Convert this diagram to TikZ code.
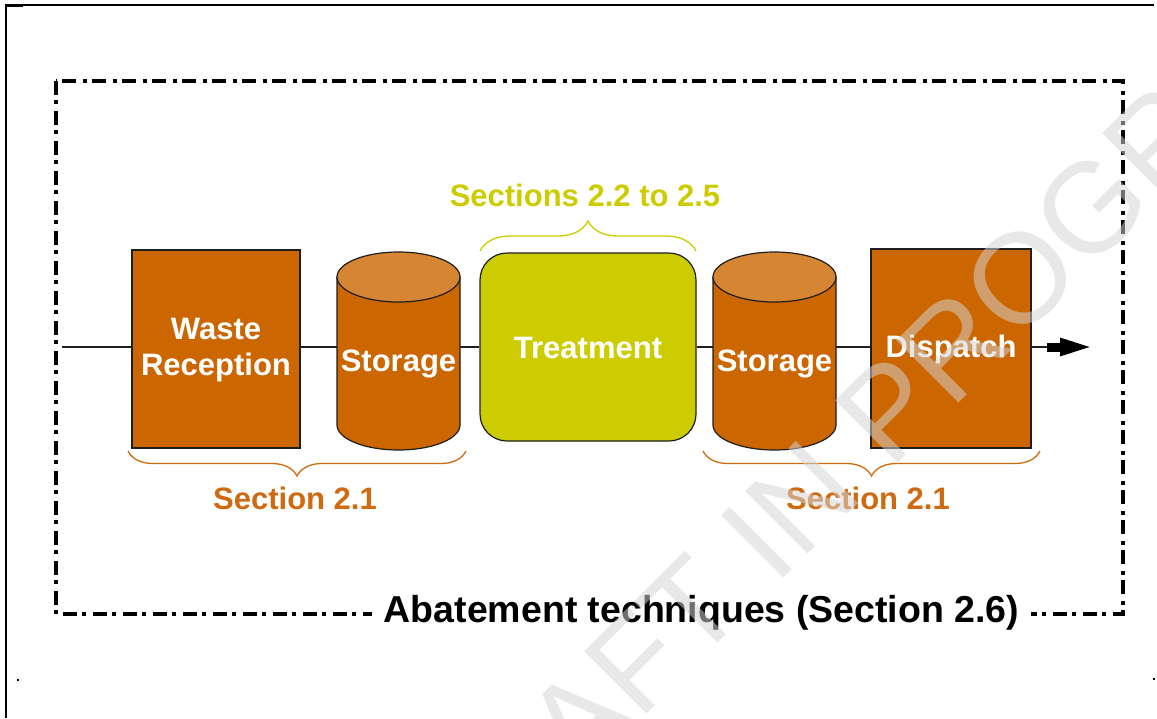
\documentclass[tikz,border=0pt]{standalone}
\usepackage{fontspec}
\setmainfont{Liberation Sans}
\usetikzlibrary{decorations.pathreplacing,arrows.meta}
\definecolor{rust}{RGB}{204,102,0}
\definecolor{rustlight}{RGB}{214,133,51}
\definecolor{olive}{RGB}{204,204,0}
\definecolor{secorange}{RGB}{208,106,16}
\definecolor{wmgray}{RGB}{211,211,211}
\definecolor{edge}{RGB}{30,30,30}
\begin{document}
\begin{tikzpicture}[x=1pt,y=-1pt,
  lbl/.style={font=\bfseries\fontsize{31}{36}\selectfont, text=white, align=center, inner sep=0pt},
  box/.style={draw=edge, line width=1.2pt, fill=rust},
  conn/.style={draw=edge, line width=1.1pt},
  sect/.style={font=\bfseries\fontsize{31}{36}\selectfont, inner sep=0pt},
  brc/.style={decorate, line width=1.3pt},
  cylbody/.style={draw=edge, line width=1.2pt, fill=rust},
  cyltop/.style={draw=edge, line width=1.2pt, fill=rustlight}]
\useasboundingbox (0,0) rectangle (1157,718);
\clip (0,0) rectangle (1157,718);
% page frame marks
\draw[line width=1.3pt] (6,718) -- (6,5) -- (1154,5);
\fill (5,3.5) rectangle (23,7);
\fill (17,679) rectangle (19,681);
\fill (1153,678) rectangle (1155,680);
% dash-dot frame
\draw[line width=3.5pt, dash pattern=on 14pt off 5pt on 4pt off 7pt] (56,81) rectangle (1123,614);
% coordinates of the flow line
\coordinate (in) at (62,347);
\coordinate (ah) at (1047,347);
\coordinate (tip) at (1098,347);
% nodes
\node[box, minimum width=168, minimum height=198, inner sep=0pt] (waste) at (216,349) {};
\node[lbl] (wastet) at (216,350) {Waste\\Reception};
\node[minimum width=123, minimum height=198, inner sep=0pt] (st1) at (398.5,351) {};
\node[minimum width=123, minimum height=198, inner sep=0pt] (st2) at (774.5,351) {};
\node[draw=edge, line width=1.2pt, fill=olive, rounded corners=27pt, minimum width=216, minimum height=188, inner sep=0pt] (treat) at (588,347) {};
\node[lbl] (treatt) at (588,348) {Treatment};
\node[box, minimum width=160, minimum height=199, inner sep=0pt] (disp) at (951,348.5) {};
% cylinders
\foreach \cx in {398.5,774.5}{
  \filldraw[cylbody] ({\cx-61.5},277) -- ({\cx-61.5},425) arc[start angle=180,end angle=0,x radius=61.5,y radius=25] -- ({\cx+61.5},277) -- cycle;
  \filldraw[cyltop] (\cx,277) ellipse[x radius=61.5,y radius=25];
}
\node[lbl] (st1t) at (398.5,364) {Storage};
\node[lbl] (st2t) at (774.5,364) {Storage};
\node[lbl] (dispt) at (951,349) {Dispatch};
% connectors
\draw[conn] (in) -- (in -| waste.west);
\draw[conn] (waste.east |- in) -- (st1.west |- in);
\draw[conn] (st1.east |- in) -- (treat.west |- in);
\draw[conn] (treat.east |- in) -- (st2.west |- in);
\draw[conn] (st2.east |- in) -- (disp.west |- in);
\draw[conn] (disp.east |- in) -- (ah);
\draw[line width=9pt, -{Triangle[length=38pt,width=15pt]}] (ah) -- (tip);
% braces
\draw[brc, draw=secorange, decoration={brace, amplitude=25pt}] (466,451) -- (128,451);
\draw[brc, draw=secorange, decoration={brace, amplitude=25pt}] (1040,451) -- (703,451);
\draw[brc, draw=olive, decoration={brace, amplitude=30pt}] (480,251) -- (696,251);
% section labels
\node[sect, text=secorange] (s21a) at (295,498) {Section 2.1};
\node[sect, text=secorange] (s21b) at (868,498) {Section 2.1};
\node[sect, text=olive] (s25) at (585,195) {Sections 2.2 to 2.5};
\node[font=\bfseries\fontsize{37.5}{40}\selectfont, fill=white, inner xsep=12pt, inner ysep=2pt] (abate) at (701.5,613) {Abatement techniques (Section 2.6)};
% watermark
\node[rotate=45, font=\fontsize{128}{128}\selectfont, text=wmgray, opacity=0.53, inner sep=0pt] (wm) at (895,404) {DRAFT IN PROGRESS};
\end{tikzpicture}
\end{document}
